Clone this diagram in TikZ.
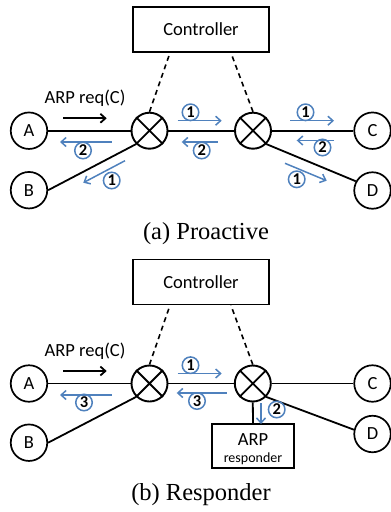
\documentclass[tikz,border=0pt]{standalone}
\usepackage{fontspec}
\setmainfont{Carlito}
\newfontfamily\capfont{Liberation Serif}
\usetikzlibrary{arrows.meta}
\definecolor{flowblue}{RGB}{79,129,189}
\begin{document}
\begin{tikzpicture}[x=1pt,y=-1pt,
  host/.style={circle,draw,line width=1.7pt,minimum size=36.5pt,inner sep=0pt,font=\fontsize{18.5}{20}\selectfont},
  switch/.style={circle,draw,line width=1.9pt,minimum size=36pt,inner sep=0pt},
  box/.style={draw,line width=1.8pt,inner sep=0pt},
  link/.style={line width=1.8pt},
  ctl/.style={line width=1.6pt,dash pattern=on 5pt off 4pt},
  flow/.style={flowblue,line width=1.5pt,-{Straight Barb[length=5pt,width=9pt]}},
  req/.style={black,line width=1.8pt,-{Straight Barb[length=5pt,width=9pt]}},
  num/.style={circle,draw=flowblue,line width=1.5pt,minimum size=16.5pt,inner sep=0pt,font=\fontsize{16.5}{16.5}\selectfont\bfseries},
  lbl/.style={font=\fontsize{18.5}{20}\selectfont},
  captext/.style={font=\capfont\fontsize{24.5}{26}\selectfont}
]
\useasboundingbox (0,0) rectangle (391,512);

% ================= (a) Proactive =================
\node[box,minimum width=136pt,minimum height=45pt,lbl] (ctrl) at (201,29.5) {Controller};
\node[switch] (s1) at (149.5,130.7) {};
\node[switch] (s2) at (253,130.7) {};
\node[host] (A) at (29,130.7) {A};
\node[host] (B) at (29,190.2) {B};
\node[host] (C) at (372.5,130.7) {C};
\node[host] (D) at (372.5,190.5) {D};
\draw[link] (s1.north west) -- (s1.south east) (s1.north east) -- (s1.south west);
\draw[link] (s2.north west) -- (s2.south east) (s2.north east) -- (s2.south west);
\draw[link] (A.east) -- (s1.west);
\draw[link] (s1.east) -- (s2.west);
\draw[link] (s2.east) -- (C.west);
\draw[link] (B.east) -- (s1.south west);
\draw[link] (s2.south east) -- (D.151);
\draw[ctl] (s1.north) -- (ctrl.217.7);
\draw[ctl] (s2.north) -- (ctrl.322.6);

\node[lbl] (reqa) at (85,98.5) {ARP req(C)};
\coordinate (ra1) at (63.3,118.3); \coordinate (ra2) at (106.7,118.3);
\draw[req] (ra1) -- (ra2);

\coordinate (fa1s) at (111.7,142) ; \coordinate (fa1e) at (60,142);
\draw[flow] (fa1s) -- (fa1e);
\node[num] (na1) at (83,150.5) {2};

\coordinate (fa2s) at (125,160.7); \coordinate (fa2e) at (83.3,182.7);
\draw[flow] (fa2s) -- (fa2e);
\node[num] (na2) at (111.7,180.5) {1};

\coordinate (fa3s) at (177.7,120.7); \coordinate (fa3e) at (221.7,120.7);
\draw[flow] (fa3s) -- (fa3e);
\node[num] (na3) at (190.5,112.3) {1};

\coordinate (fa4s) at (217.7,142); \coordinate (fa4e) at (181.7,142);
\draw[flow] (fa4s) -- (fa4e);
\node[num] (na4) at (201.7,150.5) {2};

\coordinate (fa5s) at (290,120.7); \coordinate (fa5e) at (334,120.7);
\draw[flow] (fa5s) -- (fa5e);
\node[num] (na5) at (305.5,112.3) {1};

\coordinate (fa6s) at (334,140.5); \coordinate (fa6e) at (296.7,140.5);
\draw[flow] (fa6s) -- (fa6e);
\node[num] (na6) at (322.5,147.5) {2};

\coordinate (fa7s) at (285,163.3); \coordinate (fa7e) at (326.7,180.7);
\draw[flow] (fa7s) -- (fa7e);
\node[num] (na7) at (296.7,179.3) {1};

\node[captext] (capa) at (206,233.5) {(a) Proactive};

% ================= (b) Responder =================
\node[box,minimum width=136pt,minimum height=45pt,lbl] (ctrlb) at (201,282) {Controller};
\node[switch] (s1b) at (149.5,383.5) {};
\node[switch] (s2b) at (252.8,383.5) {};
\node[host] (Ab) at (29,383.5) {A};
\node[host] (Bb) at (29,442.7) {B};
\node[host] (Cb) at (372.5,383.5) {C};
\node[host] (Db) at (372.5,434) {D};
\node[box,minimum width=82.6pt,minimum height=44pt] (resp) at (253,446) {};
\node[lbl] (respt1) at (253,439.5) {ARP};
\node[font=\fontsize{14}{15}\selectfont] (respt2) at (253,458.3) {responder};
\draw[link] (s1b.north west) -- (s1b.south east) (s1b.north east) -- (s1b.south west);
\draw[link] (s2b.north west) -- (s2b.south east) (s2b.north east) -- (s2b.south west);
\draw[link] (Ab.east) -- (s1b.west);
\draw[link] (s1b.east) -- (s2b.west);
\draw[link] (s2b.east) -- (Cb.west);
\draw[link] (Bb.east) -- (s1b.south west);
\draw[link] (s2b.south east) -- (Db.167);
\draw[link] (s2b.south) -- (resp.north);
\draw[ctl] (s1b.north) -- (ctrlb.217.7);
\draw[ctl] (s2b.north) -- (ctrlb.322.6);

\node[lbl] (reqb) at (85,351) {ARP req(C)};
\coordinate (rb1) at (63.3,371); \coordinate (rb2) at (106.7,371);
\draw[req] (rb1) -- (rb2);

\coordinate (fb1s) at (111.7,395); \coordinate (fb1e) at (60,395);
\draw[flow] (fb1s) -- (fb1e);
\node[num] (nb1) at (84,402.5) {3};

\coordinate (fb2s) at (177.7,373.5); \coordinate (fb2e) at (221.7,373.5);
\draw[flow] (fb2s) -- (fb2e);
\node[num] (nb2) at (190.5,365.2) {1};

\coordinate (fb3s) at (226.7,393); \coordinate (fb3e) at (176.7,393);
\draw[flow] (fb3s) -- (fb3e);
\node[num] (nb3) at (197,401) {3};

\coordinate (fb4s) at (261,403); \coordinate (fb4e) at (261,424);
\draw[flow] (fb4s) -- (fb4e);
\node[num] (nb4) at (276.7,409.5) {2};

\node[captext] (capb) at (201,494.5) {(b) Responder};
\end{tikzpicture}
\end{document}
